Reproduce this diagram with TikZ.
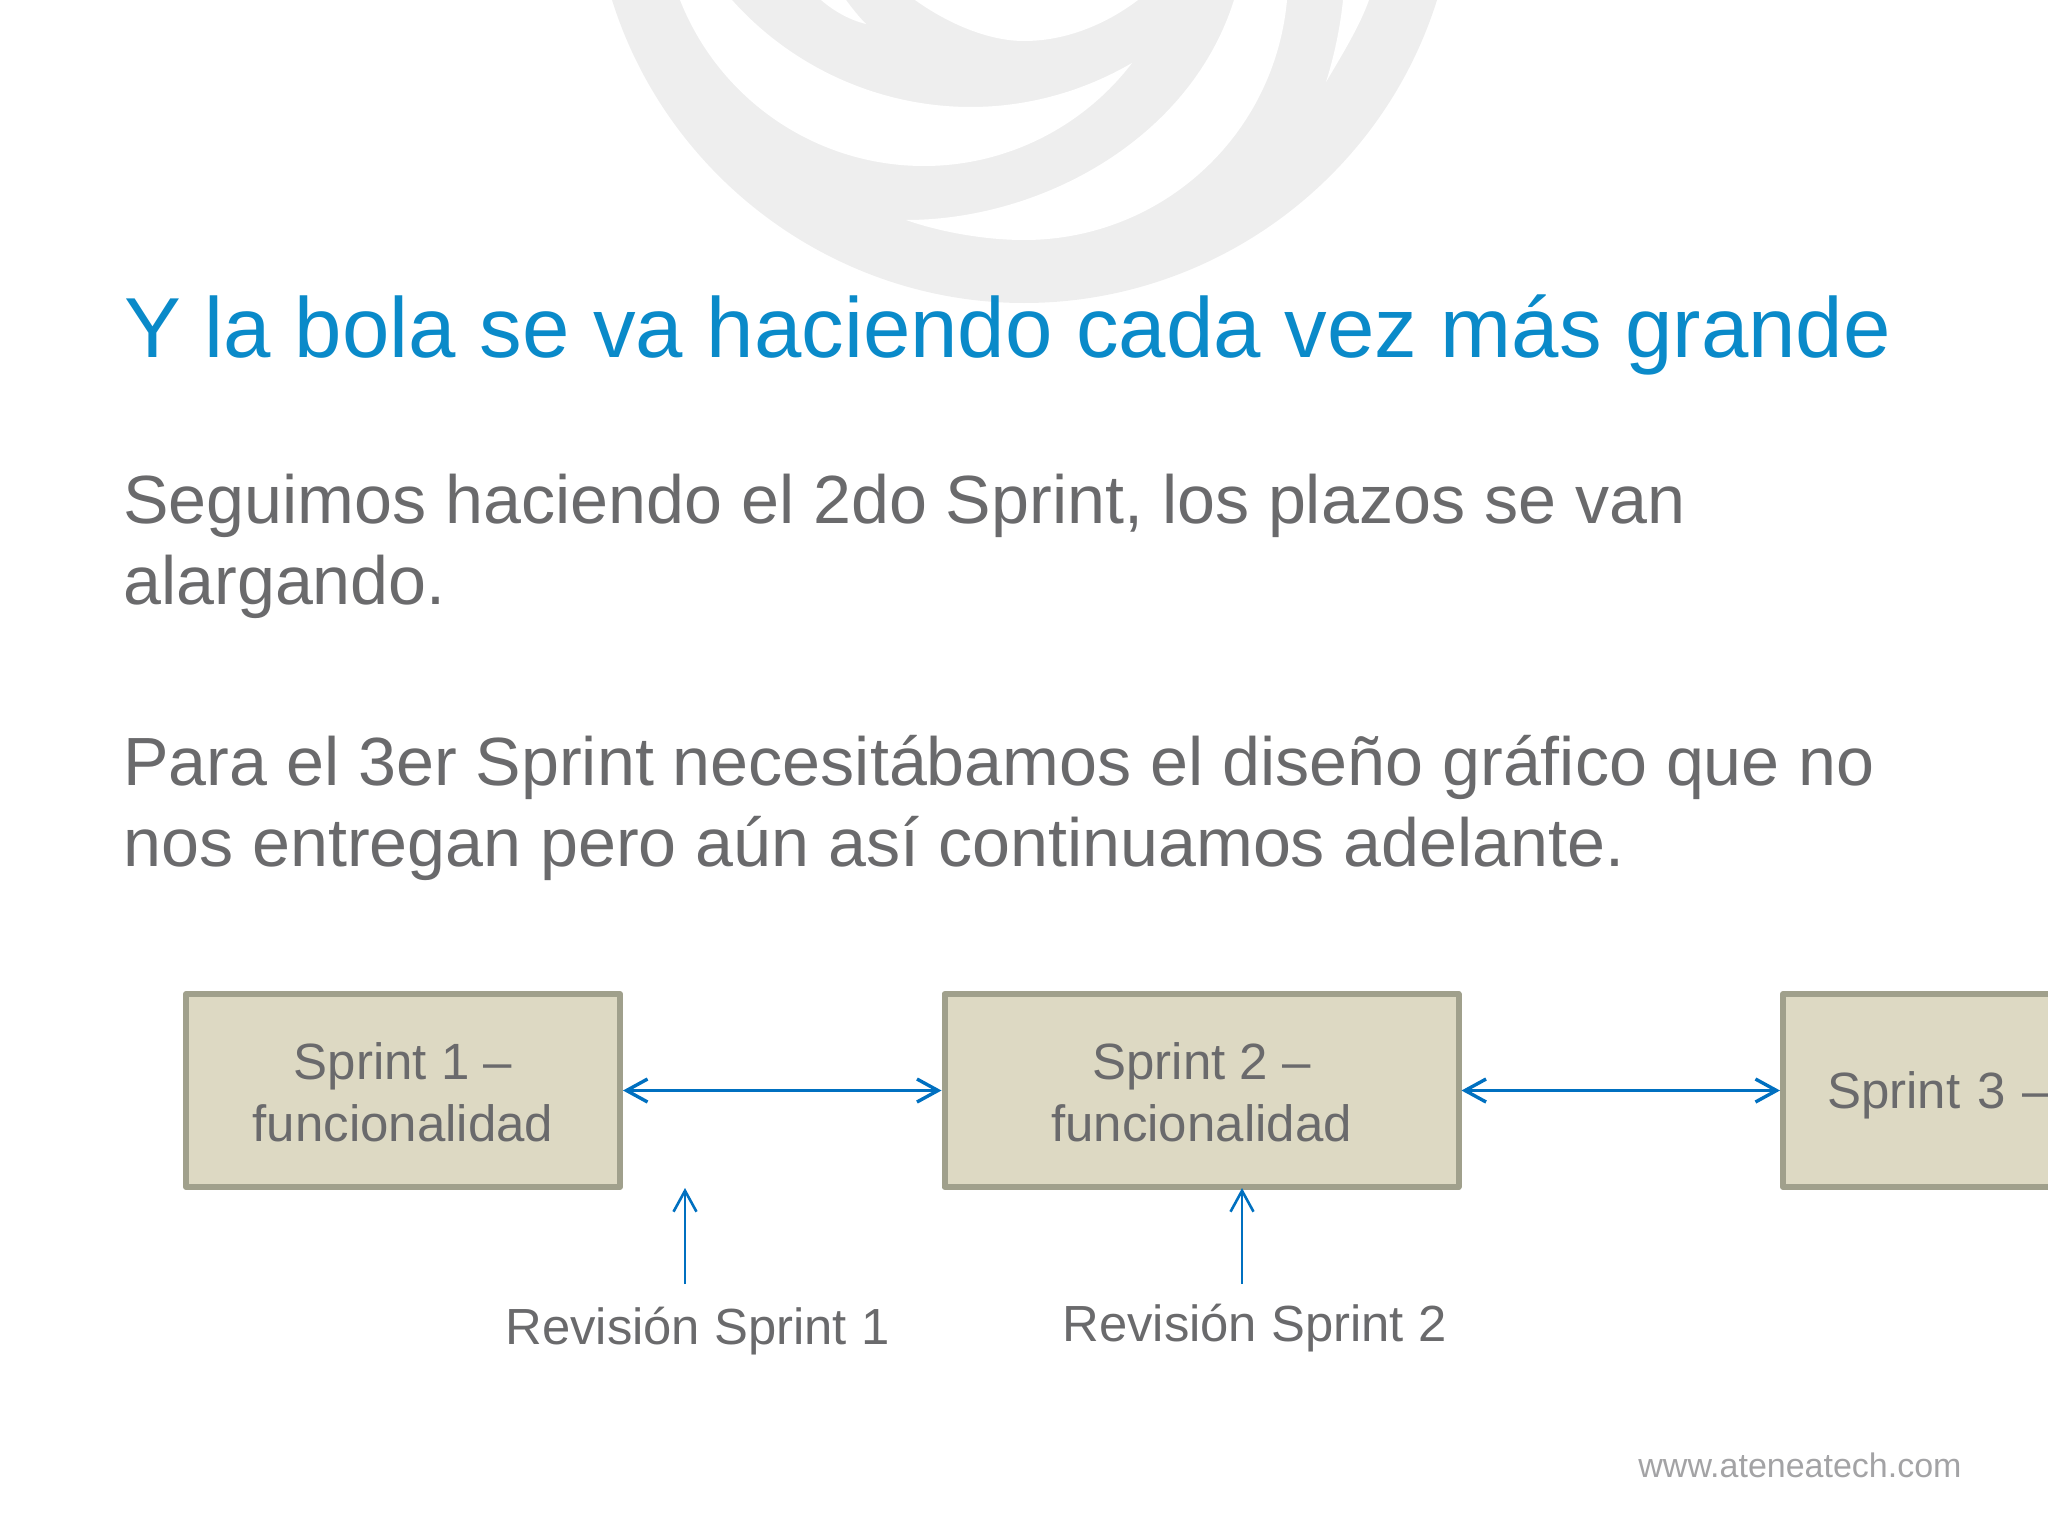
\documentclass[tikz,border=0pt]{standalone}
\usepackage{fontspec}
\setmainfont{Liberation Sans}
\usetikzlibrary{arrows.meta}
\definecolor{tituloblue}{HTML}{0A8AC9}
\definecolor{textogray}{HTML}{6A6A6C}
\definecolor{webgray}{HTML}{A3A3A5}
\definecolor{logogray}{HTML}{EEEEEE}
\definecolor{boxfill}{HTML}{DDD9C3}
\definecolor{boxline}{HTML}{A0A08C}
\definecolor{flechablue}{HTML}{0070C0}
\tikzset{
    titulo/.style = {anchor=base west, inner sep=0pt, text=tituloblue, font=\fontsize{42.6}{50}\selectfont},
    parrafo/.style = {anchor=base west, inner sep=0pt, text=textogray, font=\fontsize{34.1}{41}\selectfont},
    sprintbox/.style = {shape=rectangle, line join=round, draw=boxline, fill=boxfill, line width=3pt,
        minimum height=96.5pt, align=center, text=textogray, font=\fontsize{25.5}{30.7}\selectfont},
    revision/.style = {anchor=base west, inner sep=0pt, text=textogray, font=\fontsize{25.4}{30}\selectfont},
    flecha/.style = {draw=flechablue, line width=1.7pt, {Straight Barb[length=10.5pt,width=11.5pt]}-{Straight Barb[length=10.5pt,width=11.5pt]}},
    flechaup/.style = {draw=flechablue, line width=1.3pt, -{Straight Barb[length=10.5pt,width=11.5pt]}}
}
\begin{document}
\begin{tikzpicture}[x=0.5pt,y=-0.5pt]
    \useasboundingbox (0,0) rectangle (2048,1536);
    \clip (0,0) rectangle (2048,1536);
    % logo
    \fill[logogray] (612,0) .. controls (668,179) and (836,303) .. (1024,303)
        .. controls (1213,303) and (1381,179) .. (1437,0) -- cycle;
    \fill[white] (680,0) .. controls (719.5,100) and (816,166) .. (924,166)
        .. controls (1005.5,166) and (1082.5,127.7) .. (1132,63)
        .. controls (1083.3,91.4) and (1027.5,107) .. (971,107)
        .. controls (880,107) and (792.7,68.1) .. (732,0) -- cycle;
    \fill[white] (1234,0) .. controls (1190,140) and (1040,220) .. (906,220)
        .. controls (940,232) and (985,240) .. (1024,240)
        .. controls (1161,240) and (1274.6,136.4) .. (1287,0) -- cycle;
    \fill[white] (915,0) .. controls (950,25) and (990,41) .. (1024,41)
        .. controls (1065,41) and (1105,25) .. (1138,0) -- cycle;
    \fill[white] (821,0) .. controls (835,12) and (850,20) .. (866,24) .. controls (858,16) and (852,8) .. (846,0) -- cycle;
    \fill[white] (1343,0) .. controls (1340,30) and (1333,60) .. (1326,82) .. controls (1345,50) and (1360,25) .. (1369,0) -- cycle;
    % texto
    \node[titulo] (title) at (124,357) {Y la bola se va haciendo cada vez más grande};
    \node[parrafo] (linea1) at (123,523) {Seguimos haciendo el 2do Sprint, los plazos se van};
    \node[parrafo] (linea2) at (123,604) {alargando.};
    \node[parrafo] (linea3) at (123,785) {Para el 3er Sprint necesitábamos el diseño gráfico que no};
    \node[parrafo] (linea4) at (123,866) {nos entregan pero aún así continuamos adelante.};
    % sprints
    \node[sprintbox, minimum width=217pt] (sprint1) at (403,1090.5) {\rule{0pt}{20.4pt}Sprint 1 –\\funcionalidad};
    \node[sprintbox, minimum width=257pt] (sprint2) at (1201.5,1090.5) {\rule{0pt}{20.4pt}Sprint 2 –\\funcionalidad};
    \node[sprintbox, anchor=west, minimum width=500pt, inner xsep=22pt, align=left, text width=460pt] (sprint3) at (1780,1090.5) {\rule{0pt}{23.5pt}Sprint 3 –funcionalidad};
    \draw[flecha] (sprint1) -- (sprint2);
    \draw[flecha] (sprint2.east) -- (sprint3.west);
    % revisiones
    \node[revision] (rev1) at (505,1344) {Revisión Sprint 1};
    \node[revision] (rev2) at (1062,1341) {Revisión Sprint 2};
    \coordinate (rev1a) at (685,1284);
    \coordinate (rev1b) at (685,1188);
    \coordinate (rev2a) at (1242,1284);
    \coordinate (rev2b) at (1242,1188);
    \draw[flechaup] (rev1a) -- (rev1b);
    \draw[flechaup] (rev2a) -- (rev2b);
    \node[anchor=base west, inner sep=0pt, text=webgray, font=\fontsize{17}{20}\selectfont] (web) at (1638,1477) {www.ateneatech.com};
\end{tikzpicture}
\end{document}
